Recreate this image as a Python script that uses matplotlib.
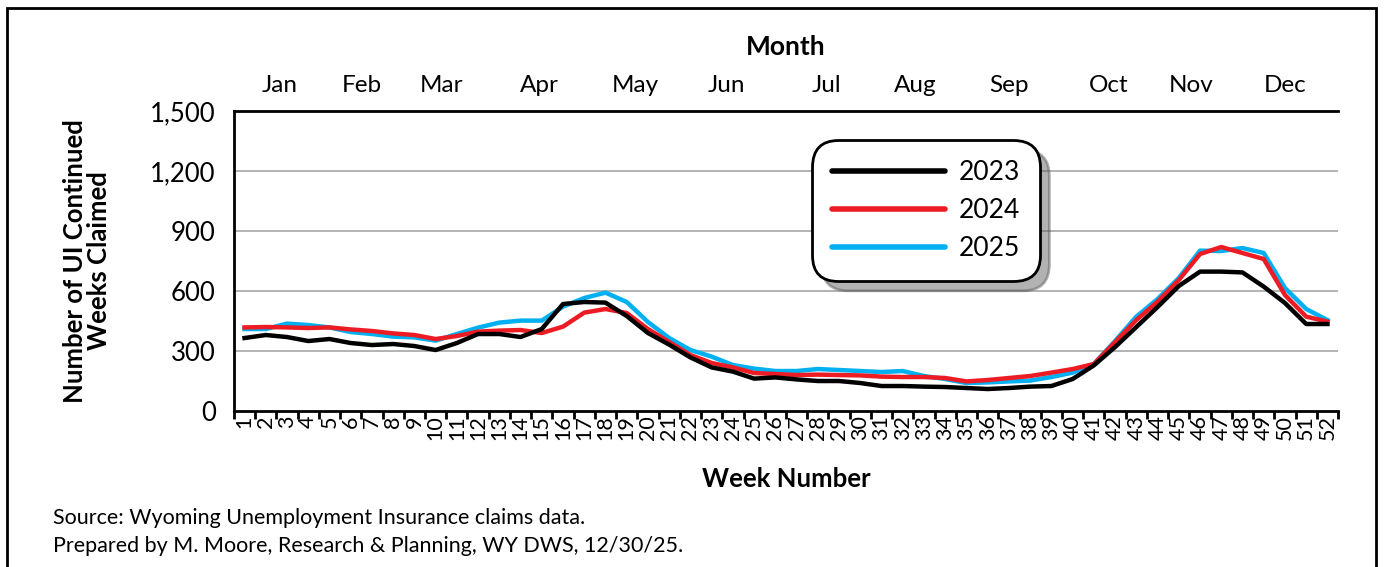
import matplotlib
matplotlib.use("Agg")
import matplotlib.pyplot as plt
from matplotlib.patches import Rectangle
from matplotlib.ticker import FuncFormatter, FixedLocator

plt.rcParams['font.family'] = ['Lato', 'DejaVu Sans']

weeks = list(range(1, 53))
claims_2023 = [365, 380, 370, 350, 360, 340, 330, 335, 325, 305, 340, 385, 385, 370, 410, 535, 545, 542,
               475, 390, 332, 268, 218, 197, 162, 168, 158, 150, 150, 140, 125, 125, 122, 120, 115, 110,
               115, 122, 125, 160, 228, 320, 420, 520, 625, 697, 697, 693, 622, 540, 435, 435]
claims_2024 = [418, 420, 418, 415, 418, 408, 400, 388, 380, 360, 375, 397, 402, 405, 390, 422, 492, 510,
               490, 410, 345, 280, 240, 218, 190, 185, 180, 182, 180, 178, 172, 170, 170, 165, 148, 155,
               165, 175, 192, 210, 235, 345, 455, 547, 655, 785, 820, 790, 760, 580, 472, 447]
claims_2025 = [410, 410, 437, 430, 418, 395, 385, 372, 368, 352, 385, 417, 442, 452, 452, 522, 565, 592,
               545, 445, 365, 305, 272, 230, 212, 200, 200, 210, 205, 200, 195, 200, 175, 160, 140, 143,
               148, 152, 170, 192, 235, 350, 472, 560, 665, 802, 800, 815, 790, 615, 510, 455]
month_labels = ['Jan', 'Feb', 'Mar', 'Apr', 'May', 'Jun', 'Jul', 'Aug', 'Sep', 'Oct', 'Nov', 'Dec']
month_positions = [2.67, 6.53, 10.3, 14.9, 19.4, 23.7, 28.4, 32.6, 37.0, 41.7, 45.6, 50.0]
y_ticks = [0, 300, 600, 900, 1200, 1500]

fig = plt.figure(figsize=(13.84, 5.67), dpi=100)
ax = fig.add_axes([0.169, 0.2751, 0.7978, 0.5291])

# outer frame
fig.patches.append(Rectangle((0.005, -0.05), 0.989, 1.036, transform=fig.transFigure,
                             fill=False, edgecolor='black', linewidth=2.0))

ax.plot(weeks, claims_2025, color='#00B0F0', lw=3.2, label='2025', zorder=3, solid_joinstyle='round')
ax.plot(weeks, claims_2024, color='#ED1C24', lw=3.2, label='2024', zorder=4, solid_joinstyle='round')
ax.plot(weeks, claims_2023, color='black', lw=3.2, label='2023', zorder=5, solid_joinstyle='round')

ax.set_xlim(0.5, 52.5)
ax.set_ylim(0, 1500)
ax.set_yticks(y_ticks)
ax.yaxis.set_major_formatter(FuncFormatter(lambda v, p: f"{int(v):,}"))
ax.tick_params(axis='y', length=0, labelsize=18.5, pad=13)
for y in y_ticks[1:-1]:
    ax.axhline(y, color='#A6A6A6', lw=1.2, zorder=1)

ax.set_xticks(weeks)
ax.set_xticklabels([str(w) for w in weeks], rotation=90, fontsize=15.5)
ax.xaxis.set_minor_locator(FixedLocator([w + 0.5 for w in range(0, 53)]))
ax.tick_params(axis='x', which='major', length=0, pad=3)
ax.tick_params(axis='x', which='minor', length=6, width=2, direction='out')

for s in ['left', 'bottom', 'top']:
    ax.spines[s].set_linewidth(2)
    ax.spines[s].set_color('black')
ax.spines['right'].set_visible(False)

ax.set_xlabel('Week Number', fontsize=18.5, fontweight='bold', labelpad=19)
ax.set_ylabel('Number of UI Continued\nWeeks Claimed', fontsize=18.5, fontweight='bold', labelpad=28,
              linespacing=1.0)

sec = ax.secondary_xaxis('top')
sec.set_xticks(month_positions)
sec.set_xticklabels(month_labels, fontsize=17.5)
sec.tick_params(length=0, pad=11)
sec.spines['top'].set_visible(False)
sec.set_xlabel('Month', fontsize=19, fontweight='bold', labelpad=14)

handles, labels = ax.get_legend_handles_labels()
order = [2, 1, 0]
leg = ax.legend([handles[i] for i in order], [labels[i] for i in order],
                loc='upper left', bbox_to_anchor=(0.5236, 0.903), fontsize=19,
                handlelength=4.3, handletextpad=0.5, borderpad=0.75, labelspacing=0.5,
                fancybox=True, shadow={'color': '#555555', 'alpha': 0.45, 'ox': 7, 'oy': -7},
                framealpha=1, edgecolor='black', borderaxespad=0)
leg.get_frame().set_linewidth(2)
leg.get_frame().set_boxstyle('round,pad=0.0,rounding_size=1.0')
for line in leg.get_lines():
    line.set_linewidth(4)
    line.set_solid_capstyle('round')

fig.text(0.038, 0.086, 'Source: Wyoming Unemployment Insurance claims data.', fontsize=15.5, va='center')
fig.text(0.038, 0.037, 'Prepared by M. Moore, Research & Planning, WY DWS, 12/30/25.', fontsize=15.5, va='center')

fig.savefig('out.png', dpi=100)
